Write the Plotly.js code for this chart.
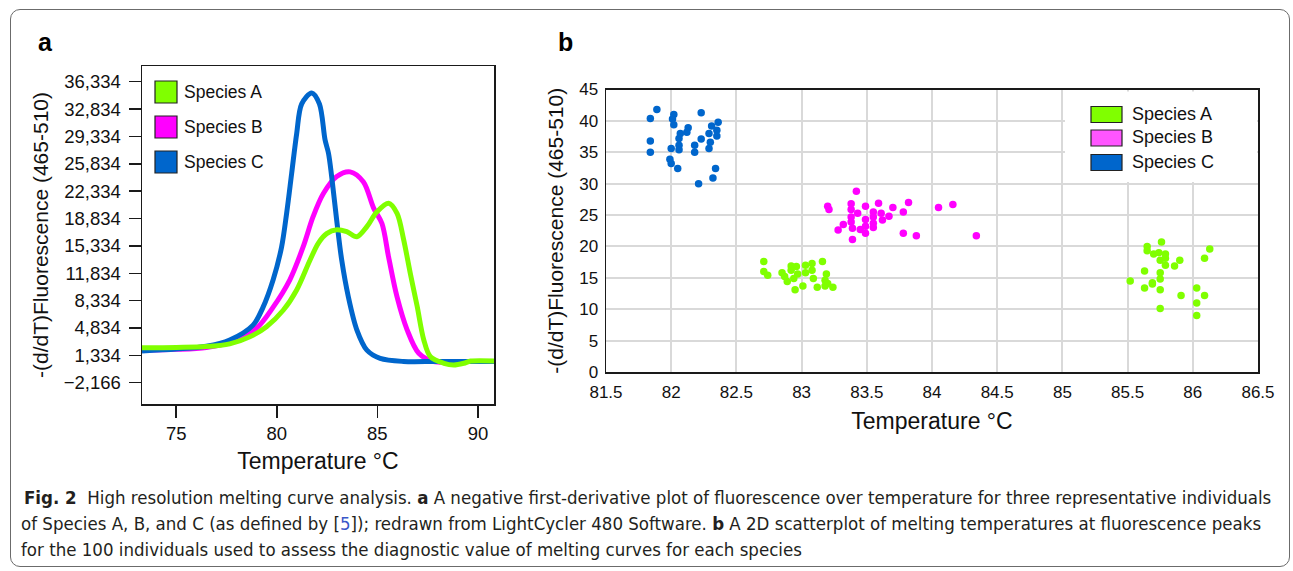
<!DOCTYPE html>
<html>
<head>
<meta charset="utf-8">
<script src="https://cdn.plot.ly/plotly-3.0.1.min.js"></script>
<style>
  html, body { margin: 0; padding: 0; background: #ffffff; }
  #wrap { position: relative; width: 1293px; height: 571px; overflow: hidden; }
  #frame { position: absolute; left: 10px; top: 9px; width: 1278px; height: 556px;
           border: 1.5px solid #6b6b6b; border-radius: 10px; }
  #chart { position: absolute; left: 0; top: 0; width: 1293px; height: 571px; }
</style>
</head>
<body>
<div id="wrap">
  <div id="frame"></div>
  <div id="chart"></div>
</div>
<script>
// ---------- Panel a: melting curves ----------
const tempA  = [73.3, 75, 76.5, 77.66, 78.66, 79.49, 80.32, 80.99, 81.65, 82.07, 82.48, 82.98, 83.48, 83.98, 84.48, 84.98, 85.56, 85.98, 86.31, 86.64, 86.98, 87.31, 87.64, 88.31, 88.8, 89.3, 89.64, 90.9];
const fluorA = [2300, 2350, 2450, 2800, 3700, 5000, 7100, 9700, 13500, 15700, 16900, 17400, 17150, 16500, 17800, 19700, 20800, 19500, 16100, 11800, 7600, 3300, 1150, 320, 100, 320, 600, 600];

const tempB  = [73.3, 75, 76.5, 77.66, 78.99, 79.82, 80.65, 81.31, 81.81, 82.31, 82.98, 83.65, 84.31, 84.81, 85.23, 85.56, 85.98, 86.48, 87.06, 87.8, 89.3, 90.9];
const fluorB = [2000, 2100, 2350, 3000, 4800, 7500, 11000, 15200, 19100, 22000, 24200, 24800, 23500, 20200, 18200, 13900, 8800, 4600, 1600, 550, 550, 550];

const tempC  = [73.3, 75, 76.5, 77.66, 78.82, 79.32, 79.82, 80.24, 80.49, 80.74, 80.99, 81.24, 81.74, 82.12, 82.4, 82.57, 82.73, 82.98, 83.23, 83.56, 83.98, 84.48, 85.14, 86.3, 88, 90.9];
const fluorC = [1900, 2150, 2500, 3300, 5200, 7500, 11000, 15200, 19500, 24600, 29700, 33500, 34900, 33500, 28900, 27200, 24200, 18600, 13500, 8800, 4600, 2000, 950, 550, 550, 550];

const yTicksA = [-2166, 1334, 4834, 8334, 11834, 15334, 18834, 22334, 25834, 29334, 32834, 36334];
const xTicksA = [75, 80, 85, 90];

// ---------- Panel b: melting temperature vs peak fluorescence ----------
const tmA = [82.71, 82.71, 82.74, 82.85, 82.87, 82.89, 82.92, 82.92, 82.96, 82.97, 82.94, 83.03, 83.03, 83.08, 83.08, 83.09, 83.16, 83.19, 83.18, 83.20, 83.12, 83.18, 83.24, 83.01, 82.95,
             85.76, 85.65, 85.65, 85.70, 85.74, 85.79, 85.79, 85.75, 85.79, 85.86, 85.90, 86.13, 86.09, 85.63, 85.52, 85.75, 85.75, 85.69, 85.69, 85.63, 85.75, 85.91, 86.03, 86.09, 86.03, 86.03, 85.75];
const pkA = [17.6, 16.0, 15.4, 15.8, 15.2, 14.4, 16.9, 16.2, 16.8, 15.6, 14.9, 17.0, 15.8, 17.3, 16.2, 14.9, 17.6, 15.6, 14.6, 14.1, 13.5, 13.7, 13.5, 13.7, 13.1,
             20.7, 20.0, 19.3, 18.8, 19.0, 18.8, 18.1, 17.8, 17.0, 16.9, 17.8, 19.6, 18.1, 16.1, 14.5, 15.8, 14.8, 14.2, 14.0, 13.4, 13.1, 12.2, 13.4, 12.2, 11.0, 9.0, 10.1];

const tmB = [83.42, 83.20, 83.21, 83.38, 83.38, 83.49, 83.59, 83.70, 83.82, 83.78, 83.67, 83.61, 83.62, 83.55, 83.55, 83.55, 83.55, 83.49, 83.49, 83.49, 83.43, 83.38, 83.38, 83.32, 83.28, 83.39, 83.45, 83.39, 83.78, 83.88, 84.05, 84.16, 84.34];
const pkB = [28.8, 26.4, 25.9, 26.8, 25.9, 26.4, 26.9, 26.2, 27.0, 25.5, 24.8, 25.3, 24.2, 25.5, 24.7, 23.7, 23.0, 24.3, 23.2, 22.1, 25.3, 24.7, 23.9, 23.5, 22.6, 22.9, 22.7, 21.1, 22.1, 21.7, 26.2, 26.7, 21.7];

const tmC = [81.89, 81.84, 82.02, 82.01, 82.02, 82.23, 82.36, 82.31, 82.35, 82.29, 82.35, 82.07, 82.06, 82.13, 82.12, 82.23, 82.30, 82.29, 82.18, 82.18, 82.06, 82.06, 82.00, 81.84, 81.84, 81.99, 82.00, 82.05, 82.34, 82.32, 82.21];
const pkC = [41.8, 40.4, 41.0, 40.3, 39.4, 41.3, 39.8, 39.2, 38.5, 38.0, 37.6, 38.0, 37.2, 38.9, 38.2, 37.1, 36.6, 35.6, 36.1, 35.0, 36.1, 35.4, 35.6, 36.8, 35.0, 33.9, 33.2, 32.4, 32.4, 30.9, 30.0];

const seriesNames = ["Species A", "Species B", "Species C"];
const lineColors  = ["#80ff00", "#ff00ff", "#0066cc"];
const legendBFill = ["#80ff00", "#ff55ff", "#0066cc"];

// ---------- helpers (pixel -> paper) ----------
const W = 1293, H = 571;
const fx = x => x / W;
const fy = y => 1 - y / H;
const FONT = "Liberation Sans, Arial, Helvetica, sans-serif";

const traces = [
  {x: tempB, y: fluorB, xaxis: "x", yaxis: "y", type: "scatter", mode: "lines", name: seriesNames[1],
   line: {color: lineColors[1], width: 5, shape: "spline", smoothing: 0.9}, showlegend: false},
  {x: tempC, y: fluorC, xaxis: "x", yaxis: "y", type: "scatter", mode: "lines", name: seriesNames[2],
   line: {color: lineColors[2], width: 5, shape: "spline", smoothing: 0.9}, showlegend: false},
  {x: tempA, y: fluorA, xaxis: "x", yaxis: "y", type: "scatter", mode: "lines", name: seriesNames[0],
   line: {color: lineColors[0], width: 5, shape: "spline", smoothing: 0.9}, showlegend: false},
  {x: tmA, y: pkA, xaxis: "x2", yaxis: "y2", type: "scatter", mode: "markers", name: seriesNames[0],
   marker: {color: lineColors[0], size: 7.5}, showlegend: false},
  {x: tmB, y: pkB, xaxis: "x2", yaxis: "y2", type: "scatter", mode: "markers", name: seriesNames[1],
   marker: {color: lineColors[1], size: 7.5}, showlegend: false},
  {x: tmC, y: pkC, xaxis: "x2", yaxis: "y2", type: "scatter", mode: "markers", name: seriesNames[2],
   marker: {color: lineColors[2], size: 7.5}, showlegend: false}
];

const shapes = [];
const annotations = [];

// Panel b legend white backing box (covers grid)
shapes.push({type: "rect", xref: "paper", yref: "paper", layer: "above",
  x0: fx(1065), x1: fx(1257), y0: fy(182), y1: fy(91.5),
  fillcolor: "#ffffff", line: {width: 0}});

// Legend a
const legAy = [92, 127, 162];
const legBy = [114.5, 138, 162.5];
for (let i = 0; i < 3; i++) {
  shapes.push({type: "rect", xref: "paper", yref: "paper", layer: "above",
    x0: fx(155), x1: fx(177), y0: fy(legAy[i] + 11), y1: fy(legAy[i] - 11),
    fillcolor: lineColors[i], line: {color: "#222222", width: 1.2}});
  annotations.push({xref: "paper", yref: "paper", x: fx(182), y: fy(legAy[i]), xanchor: "left", yanchor: "middle",
    text: seriesNames[i], showarrow: false, font: {family: FONT, size: 17.5, color: "#111111"}});
  shapes.push({type: "rect", xref: "paper", yref: "paper", layer: "above",
    x0: fx(1091), x1: fx(1122), y0: fy(legBy[i] + 8), y1: fy(legBy[i] - 8),
    fillcolor: legendBFill[i], line: {color: "#222222", width: 1.2}});
  annotations.push({xref: "paper", yref: "paper", x: fx(1130), y: fy(legBy[i] - 1), xanchor: "left", yanchor: "middle",
    text: seriesNames[i], showarrow: false, font: {family: FONT, size: 18, color: "#111111"}});
}

// Panel letters
annotations.push({xref: "paper", yref: "paper", x: fx(45), y: fy(42), xanchor: "center", yanchor: "middle",
  text: "<b>a</b>", showarrow: false, font: {family: FONT, size: 25, color: "#000000"}});
annotations.push({xref: "paper", yref: "paper", x: fx(565), y: fy(42), xanchor: "center", yanchor: "middle",
  text: "<b>b</b>", showarrow: false, font: {family: FONT, size: 25, color: "#000000"}});

// Caption
const CAP = "DejaVu Sans Condensed, Noto Sans, sans-serif";
const captionLines = [
  "<b>Fig. 2</b>  High resolution melting curve analysis. <b>a</b> A negative first-derivative plot of fluorescence over temperature for three representative individuals",
  "of Species A, B, and C (as defined by [<span style='color:#3a57c9'>5</span>]); redrawn from LightCycler 480 Software. <b>b</b> A 2D scatterplot of melting temperatures at fluorescence peaks",
  "for the 100 individuals used to assess the diagnostic value of melting curves for each species"
];
const captionY = [497, 523, 549];
const captionX = [22, 19, 19];
captionLines.forEach((t, i) => {
  annotations.push({xref: "paper", yref: "paper", x: fx(captionX[i]), y: fy(captionY[i]), xanchor: "left", yanchor: "middle",
    text: t, showarrow: false, font: {family: CAP, size: 18.5, color: "#231f20"}});
});

const axisCommonA = {
  showline: true, mirror: true, linecolor: "#1a1a1a", linewidth: 1.5,
  showgrid: false, zeroline: false, ticks: "outside", ticklen: 12, tickwidth: 1.5, tickcolor: "#1a1a1a",
  tickfont: {family: FONT, size: 18.5, color: "#111111"}
};

const layout = {
  width: W, height: H,
  margin: {l: 0, r: 0, t: 0, b: 0},
  paper_bgcolor: "rgba(0,0,0,0)",
  plot_bgcolor: "rgba(0,0,0,0)",
  showlegend: false,
  xaxis: Object.assign({}, axisCommonA, {
    domain: [fx(142), fx(494)], anchor: "y", range: [73.3, 90.8],
    tickmode: "array", tickvals: xTicksA, ticklabelstandoff: 0,
    title: {text: "Temperature °C", font: {family: FONT, size: 23, color: "#111111"}, standoff: 10}
  }),
  yaxis: Object.assign({}, axisCommonA, {
    domain: [fy(404), fy(66)], anchor: "x", range: [-4890, 38342],
    tickmode: "array", tickvals: yTicksA, tickformat: ",", ticklabelstandoff: 4,
    title: {text: "-(d/dT)Fluorescence (465-510)", font: {family: FONT, size: 21, color: "#111111"}, standoff: 9}
  }),
  xaxis2: {
    domain: [fx(606), fx(1258)], anchor: "y2", range: [81.5, 86.5],
    tickmode: "linear", tick0: 81.5, dtick: 0.5, ticks: "",
    showline: true, mirror: true, linecolor: "#1a1a1a", linewidth: 1.5,
    showgrid: true, gridcolor: "#d9d9d9", gridwidth: 2, zeroline: false,
    tickfont: {family: FONT, size: 17, color: "#111111"}, ticklabelstandoff: 4,
    title: {text: "Temperature °C", font: {family: FONT, size: 23, color: "#111111"}, standoff: 12}
  },
  yaxis2: {
    domain: [fy(372), fy(89.5)], anchor: "x2", range: [0, 45],
    tickmode: "linear", tick0: 0, dtick: 5, ticks: "",
    showline: true, mirror: true, linecolor: "#1a1a1a", linewidth: 1.5,
    showgrid: true, gridcolor: "#d9d9d9", gridwidth: 2, zeroline: false,
    tickfont: {family: FONT, size: 17, color: "#111111"}, ticklabelstandoff: 3,
    title: {text: "-(d/dT)Fluorescence (465-510)", font: {family: FONT, size: 21, color: "#111111"}, standoff: 10}
  },
  shapes: shapes,
  annotations: annotations
};

Plotly.newPlot("chart", traces, layout, {displayModeBar: false, staticPlot: true});
</script>
</body>
</html>
